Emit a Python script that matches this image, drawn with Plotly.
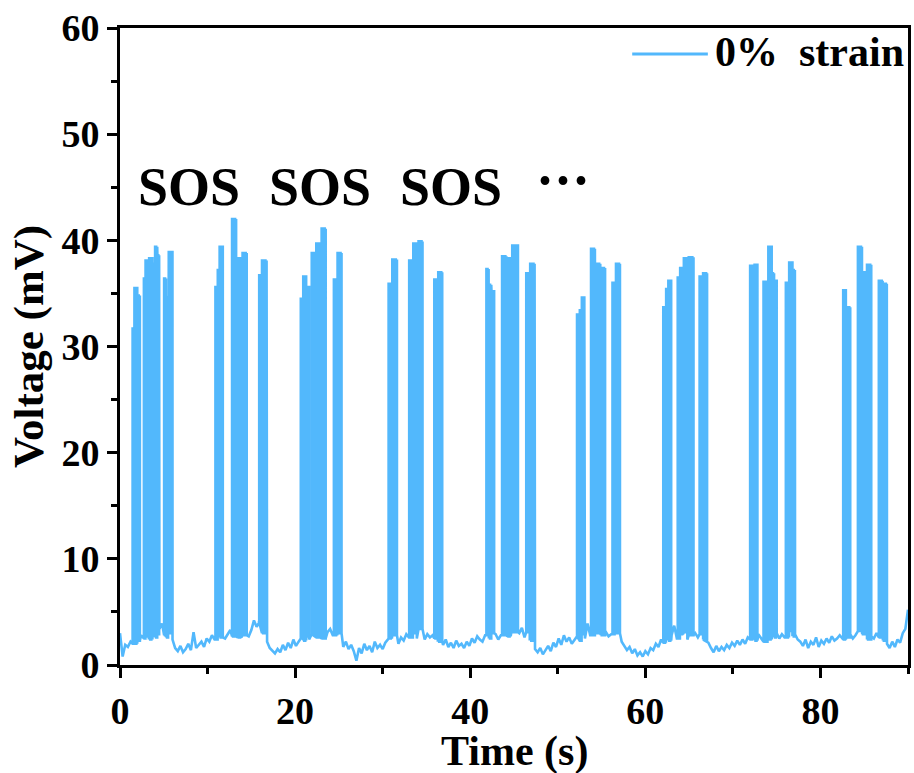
import numpy as np
import plotly.graph_objects as go

# ---- data ----
# baseline voltage (mV) sampled every 0.3 s from 0 to 90 s
base_v = [
    3.0, 0.8, 1.9, 1.7, 2.2, 2.0, 2.6, 2.3, 2.8, 2.5,
    2.7, 2.4, 3.0, 2.6, 2.9, 3.4, 3.9, 2.8, 2.6, 3.0,
    2.4, 1.6, 1.3, 1.8, 1.2, 1.5, 2.0, 1.4, 3.1, 1.6,
    1.9, 2.2, 1.7, 2.5, 2.2, 2.8, 2.4, 3.0, 2.6, 2.9,
    2.5, 2.9, 3.3, 2.7, 3.1, 2.6, 3.0, 2.8, 3.2, 2.7,
    3.3, 4.2, 3.6, 4.0, 3.0, 2.7, 2.2, 1.6, 1.3, 1.1,
    1.5, 1.2, 1.9, 1.4, 2.1, 1.6, 2.4, 1.8, 2.2, 2.5,
    2.3, 2.7, 2.4, 2.9, 2.2, 2.6, 3.0, 2.5, 3.5, 3.1,
    3.4, 2.8, 2.6, 3.0, 2.3, 1.7, 2.2, 1.5, 1.9, 1.3,
    0.4, 1.6, 1.1, 2.0, 1.4, 1.8, 1.2, 2.2, 1.6, 1.9,
    1.5, 2.1, 2.5, 2.2, 2.8, 2.4, 2.0, 2.6, 2.3, 2.9,
    2.6, 2.3, 3.0, 2.5, 3.4, 2.7, 2.4, 2.9, 2.6, 2.8,
    2.5, 2.2, 2.7, 1.9, 2.4, 1.7, 2.1, 1.6, 2.3, 1.8,
    2.0, 1.6, 2.2, 1.8, 2.5, 2.1, 2.7, 2.4, 2.2, 2.8,
    2.5, 3.0, 2.6, 2.9, 2.4, 2.8, 2.3, 2.7, 2.5, 3.1,
    2.7, 2.4, 3.0, 3.5, 2.6, 3.1, 2.3, 2.0, 1.5, 1.2,
    1.6, 1.0, 1.4, 1.8, 1.3, 2.1, 1.7, 2.5, 1.9, 2.8,
    2.2, 2.6, 2.0, 2.4, 2.7, 2.3, 2.9, 2.5, 3.9, 2.8,
    2.6, 3.0, 2.4, 2.8, 2.5, 3.1, 2.7, 2.9, 3.5, 3.0,
    2.6, 2.2, 1.8, 1.4, 1.7, 1.1, 1.5, 0.9, 1.2, 0.8,
    1.3, 1.0, 1.6, 1.4, 2.0, 1.7, 2.4, 2.1, 2.6, 2.3,
    2.8, 3.7, 2.5, 2.9, 2.6, 3.1, 2.4, 2.8, 2.7, 3.0,
    2.6, 2.9, 2.4, 2.8, 2.1, 1.6, 1.2, 1.8, 1.3, 1.7,
    1.4, 1.9, 1.6, 2.1, 1.8, 2.3, 1.9, 2.4, 2.0, 2.6,
    2.4, 2.7, 2.3, 2.9, 2.5, 2.2, 2.8, 2.4, 3.0, 2.6,
    3.0, 2.5, 2.9, 2.6, 4.0, 3.2, 2.7, 2.9, 2.4, 2.2,
    1.8, 2.4, 1.6, 2.2, 1.9, 2.6, 1.7, 2.3, 2.0, 2.5,
    2.1, 2.7, 2.3, 2.5, 2.8, 2.4, 3.0, 2.6, 2.9, 2.5,
    2.8, 3.2, 2.6, 2.9, 2.4, 3.1, 2.7, 2.5, 3.0, 2.6,
    2.3, 2.8, 2.0, 1.6, 2.2, 1.7, 2.4, 2.1, 3.0, 3.4,
    5.2,
]
base_t = np.round(np.arange(len(base_v)) * 0.3, 2)

# voltage pulses: start time (s), end time (s), peak voltage (mV)
pulse_start = [
    1.44, 1.65, 2.00, 2.73, 2.92, 3.33, 3.72, 4.01, 4.27, 5.04, 5.27, 5.57,
    10.90, 11.17, 11.38, 12.80, 13.44, 14.00, 15.90, 16.22,
    20.65, 20.93, 21.28, 21.90, 22.42, 23.03, 24.43, 24.85,
    30.68, 31.10, 33.03, 33.50, 34.10, 35.90, 36.35,
    41.85, 42.13, 42.43, 43.64, 44.24, 44.80, 46.40, 46.85,
    52.20, 52.52, 52.75, 53.80, 54.35, 54.90, 56.25, 56.65,
    62.05, 62.38, 62.63, 63.70, 63.98, 64.40, 64.96, 66.20, 66.60,
    71.97, 72.28, 72.48, 73.50, 74.05, 74.45, 74.72, 76.05, 76.43, 76.83,
    82.60, 82.95, 84.28, 84.76, 84.98, 85.32, 86.67, 87.13,
]
pulse_end = [
    1.62, 1.97, 2.27, 2.90, 3.26, 3.70, 3.94, 4.25, 4.47, 5.25, 5.49, 5.99,
    11.15, 11.35, 11.74, 13.26, 13.86, 14.47, 16.20, 16.74,
    20.90, 21.26, 21.60, 22.35, 22.90, 23.49, 24.80, 25.30,
    31.05, 31.63, 33.45, 33.90, 34.55, 36.30, 36.80,
    42.10, 42.40, 42.73, 44.13, 44.62, 45.45, 46.80, 47.35,
    52.50, 52.72, 53.03, 54.24, 54.85, 55.40, 56.60, 57.10,
    62.35, 62.60, 62.95, 63.95, 64.30, 64.77, 65.50, 66.55, 67.05,
    72.25, 72.45, 72.80, 73.95, 74.43, 74.70, 75.00, 76.40, 76.80, 77.08,
    82.90, 83.40, 84.74, 84.95, 85.30, 85.80, 87.10, 87.58,
]
pulse_peak = [
    31.7, 35.5, 34.8, 36.4, 38.1, 38.3, 37.8, 39.4, 38.6, 36.4, 34.6, 38.9,
    35.6, 37.2, 39.4, 42.0, 38.3, 38.8, 36.7, 38.1,
    34.5, 36.6, 35.6, 38.8, 39.7, 41.1, 36.3, 38.8,
    35.9, 38.2, 38.1, 39.7, 39.9, 36.3, 37.0,
    37.3, 35.8, 35.2, 38.5, 38.3, 39.5, 36.9, 37.8,
    33.0, 33.4, 34.6, 39.2, 37.8, 37.4, 36.0, 37.8,
    33.7, 35.4, 36.2, 36.5, 37.4, 38.3, 38.4, 36.6, 36.9,
    37.6, 36.4, 37.7, 36.1, 39.4, 36.9, 36.2, 36.0, 37.9, 37.2,
    35.3, 33.7, 39.4, 35.5, 37.0, 37.7, 36.2, 35.9,
]

x_ticks = [0, 20, 40, 60, 80]
y_ticks = [0, 10, 20, 30, 40, 50, 60]
labels = ["SOS", "SOS", "SOS", "···"]
label_x = [7.9, 22.8, 37.8, 50.6]
label_y = [45.0, 45.0, 45.0, 45.6]

# ---- build the trace vertices from baseline samples and pulse table ----
def nearest_base(t):
    i = int(np.argmin(np.abs(base_t - t)))
    return base_v[i]

STROKE = 0.14  # spacing of the dense up/down strokes inside each pulse (s)

events = sorted(zip(pulse_start, pulse_end, pulse_peak))
ts, vs = [], []
pi = 0
for t, v in zip(base_t, base_v):
    while pi < len(events) and events[pi][0] <= t:
        s, e, p = events[pi]
        lo = nearest_base(s)
        n = max(2, int(np.ceil((e - s) / STROKE)) + 1)
        grid = np.linspace(s, e, n)
        for k, g in enumerate(grid):
            if k % 2 == 0:
                ts += [g, g]; vs += [lo, p]
            else:
                ts += [g, g]; vs += [p, lo]
        if n % 2 == 1:
            ts.append(e); vs.append(lo)
        pi += 1
    if not any(s < t < e for s, e, _ in events):
        ts.append(float(t))
        vs.append(v)

COLOR = "#52B8FC"
FONT = "Liberation Serif, Times New Roman, serif"

fig = go.Figure()
fig.add_trace(go.Scatter(x=ts, y=vs, mode="lines", name="0%  strain",
                         line=dict(color=COLOR, width=2.6), showlegend=False))

axis_common = dict(
    showline=True, linewidth=3, linecolor="black", mirror=True,
    ticks="outside", ticklen=10, tickwidth=3, tickcolor="black",
    showgrid=False, zeroline=False,
    tickfont=dict(family=FONT, size=38, color="black", weight="bold"),
)
fig.update_xaxes(range=[0, 90], tickvals=x_ticks,
                 minor=dict(tickvals=[10, 30, 50, 70, 90], ticks="outside", ticklen=6, tickwidth=3, tickcolor="black"),
                 **axis_common)
fig.update_yaxes(range=[0, 60], tickvals=y_ticks,
                 minor=dict(tickvals=[5, 15, 25, 35, 45, 55], ticks="outside", ticklen=6, tickwidth=3, tickcolor="black"),
                 **axis_common)

for txt, xx, yy in zip(labels, label_x, label_y):
    fig.add_annotation(x=xx, y=yy, xref="x", yref="y", text=f"<b>{txt}</b>", showarrow=False,
                       font=dict(family=FONT, size=54, color="black"), xanchor="center", yanchor="middle")

# axis titles
fig.add_annotation(x=0.501, y=-0.136, xref="paper", yref="paper", text="<b>Time (s)</b>", showarrow=False,
                   font=dict(family=FONT, size=42, color="black"), xanchor="center", yanchor="middle")
fig.add_annotation(x=-0.116, y=0.50, xref="paper", yref="paper", text="<b>Voltage (mV)</b>", showarrow=False,
                   textangle=-90, font=dict(family=FONT, size=43, color="black"), xanchor="center", yanchor="middle")

# legend (drawn manually to match sample length)
fig.add_shape(type="line", xref="paper", yref="paper", x0=0.650, x1=0.746, y0=0.959, y1=0.959,
              line=dict(color=COLOR, width=3))
fig.add_annotation(x=0.7525, y=0.962, xref="paper", yref="paper", text="<b>0%  strain</b>", showarrow=False,
                   font=dict(family=FONT, size=42, color="black"), xanchor="left", yanchor="middle")

fig.update_layout(
    width=914, height=773,
    margin=dict(l=120, r=3, t=28, b=108),
    paper_bgcolor="white", plot_bgcolor="white",
    showlegend=False,
)
fig.write_html("out.html")
